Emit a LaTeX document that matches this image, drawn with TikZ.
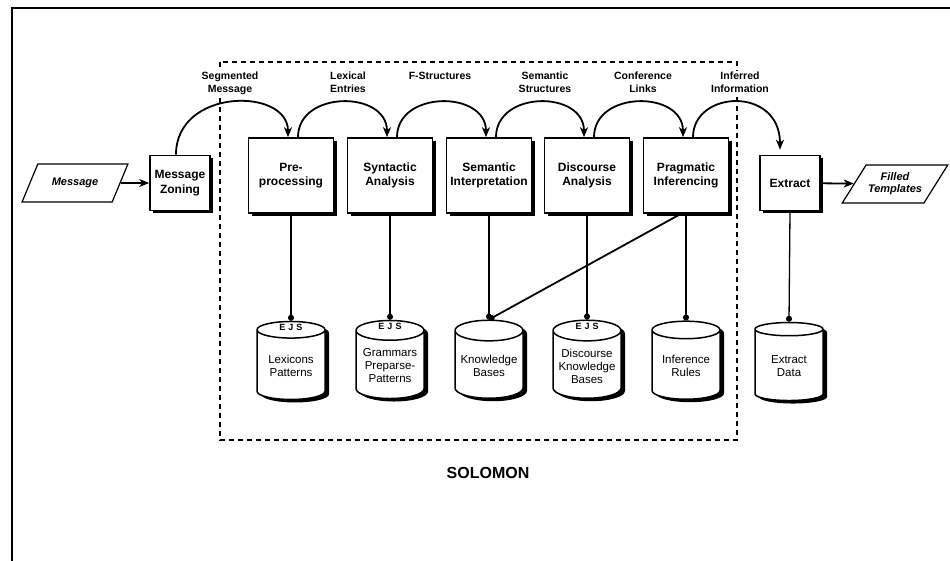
\documentclass[tikz,border=0pt]{standalone}
\usepackage{fontspec}
\setmainfont{Liberation Sans}
\usetikzlibrary{shapes.geometric,shadows,arrows.meta}

\tikzset{
  shade/.style={drop shadow={shadow xshift=3pt, shadow yshift=-3pt, opacity=1, fill=black}},
  proc/.style={draw, line width=1.6pt, fill=white, align=center, inner sep=1pt,
    font=\fontsize{12}{14.5}\selectfont\bfseries, minimum width=85pt, minimum height=75pt, shade},
  smallproc/.style={proc, minimum width=60pt, minimum height=55pt},
  store/.style={cylinder, shape border rotate=90, draw, line width=1.5pt, fill=white, aspect=0.35,
    minimum width=68pt, minimum height=78pt, align=center, inner sep=1pt,
    font=\fontsize{11.5}{13}\selectfont, drop shadow={shadow xshift=4pt, shadow yshift=-3pt, opacity=1, fill=black}},
  io/.style={trapezium, trapezium left angle=45, trapezium right angle=135, trapezium stretches=true,
    draw, line width=1.2pt, minimum width=106pt, minimum height=38pt, align=center, inner sep=0pt,
    font=\fontsize{11}{12}\selectfont\bfseries\itshape},
  flow/.style={line width=1.8pt, -{Stealth[length=10pt, width=8pt, inset=3pt]}},
  link/.style={line width=1.3pt, -{Circle[length=6pt]}},
  lbl/.style={anchor=north, align=center, fill=white, inner sep=1pt,
    font=\fontsize{10.5}{13}\selectfont\bfseries},
  ejs/.style={font=\fontsize{9}{9}\selectfont\bfseries, inner sep=0pt}
}

\begin{document}
\begin{tikzpicture}[x=1pt, y=-1pt]
  \useasboundingbox (0,0) rectangle (950,561);

  % frame and SOLOMON area
  \draw[line width=1.4pt] (12,561) -- (12,8) -- (950,8);
  \draw[line width=2pt, dash pattern=on 5pt off 4pt] (220,62) rectangle (737,440);
  \node[font=\fontsize{16}{16}\selectfont\bfseries] (solomon) at (488,473) {SOLOMON};

  % input and output
  \node[io] (msg) at (75,183) {Message};
  \node[io] (filled) at (895,184) {Filled\\Templates};

  % processing stages
  \node[smallproc] (zone) at (180,183) {Message\\Zoning};
  \node[proc] (pre) at (291,175.5) {Pre-\\processing};
  \node[proc] (syn) at (390,175.5) {Syntactic\\Analysis};
  \node[proc] (sem) at (489,175.5) {Semantic\\Interpretation};
  \node[proc] (dis) at (587,175.5) {Discourse\\Analysis};
  \node[proc] (prag) at (686,175.5) {Pragmatic\\Inferencing};
  \node[smallproc] (ext) at (790,183) {Extract};

  % knowledge sources
  \node[store] (lex) at (291,366) {Lexicons\\Patterns};
  \node[store] (gram) at (390,366) {Grammars\\Preparse-\\Patterns};
  \node[store] (kb) at (489,366) {Knowledge\\Bases};
  \node[store] (dkb) at (587,366) {Discourse\\Knowledge\\Bases};
  \node[store] (rules) at (686,366) {Inference\\Rules};
  \node[store] (data) at (789,366) {Extract\\Data};

  \node[ejs] (ejs1) at ([yshift=-7pt]lex.top) {E\hspace{3pt}J\hspace{3pt}S};
  \node[ejs] (ejs2) at ([yshift=-7pt]gram.top) {E\hspace{3pt}J\hspace{3pt}S};
  \node[ejs] (ejs3) at ([yshift=-7pt]dkb.top) {E\hspace{3pt}J\hspace{3pt}S};

  % data passed along
  \node[lbl] (l1) at (230,71) {Segmented\\Message};
  \node[lbl] (l2) at (348,71) {Lexical\\Entries};
  \node[lbl] (l3) at (440,71) {F-Structures};
  \node[lbl] (l4) at (545,71) {Semantic\\Structures};
  \node[lbl] (l5) at (643,71) {Conference\\Links};
  \node[lbl] (l6) at (740,71) {Inferred\\Information};

  % flow
  \draw[flow] (msg) -- (zone);
  \draw[flow] ([xshift=-4pt]zone.north) .. controls +(0,-67) and +(0,-50) .. ([xshift=-3pt]pre.north);
  \draw[flow] ([xshift=7pt]pre.north) .. controls +(0,-47) and +(0,-47) .. ([xshift=-3pt]syn.north);
  \draw[flow] ([xshift=7pt]syn.north) .. controls +(0,-47) and +(0,-47) .. ([xshift=-3pt]sem.north);
  \draw[flow] ([xshift=7pt]sem.north) .. controls +(0,-47) and +(0,-47) .. ([xshift=-3pt]dis.north);
  \draw[flow] ([xshift=7pt]dis.north) .. controls +(0,-47) and +(0,-47) .. ([xshift=-3pt]prag.north);
  \draw[flow, shorten >=5pt] ([xshift=7pt]prag.north) .. controls +(0,-47) and +(0,-69) .. ([xshift=-10pt]ext.north);
  \draw[flow] (ext) -- (filled);

  % access to knowledge sources
  \draw[link] (pre.south) -- (lex.top);
  \draw[link] (syn.south) -- (gram.top);
  \draw[link] (sem.south) -- (kb.top);
  \draw[link] (dis.south) -- (dkb.top);
  \draw[link] (prag.south) -- (rules.top);
  \draw[link, line width=1.8pt] ([xshift=-5pt]prag.south) -- (kb.top);
  \draw[link] (ext.south) -- (data.top);
\end{tikzpicture}
\end{document}
